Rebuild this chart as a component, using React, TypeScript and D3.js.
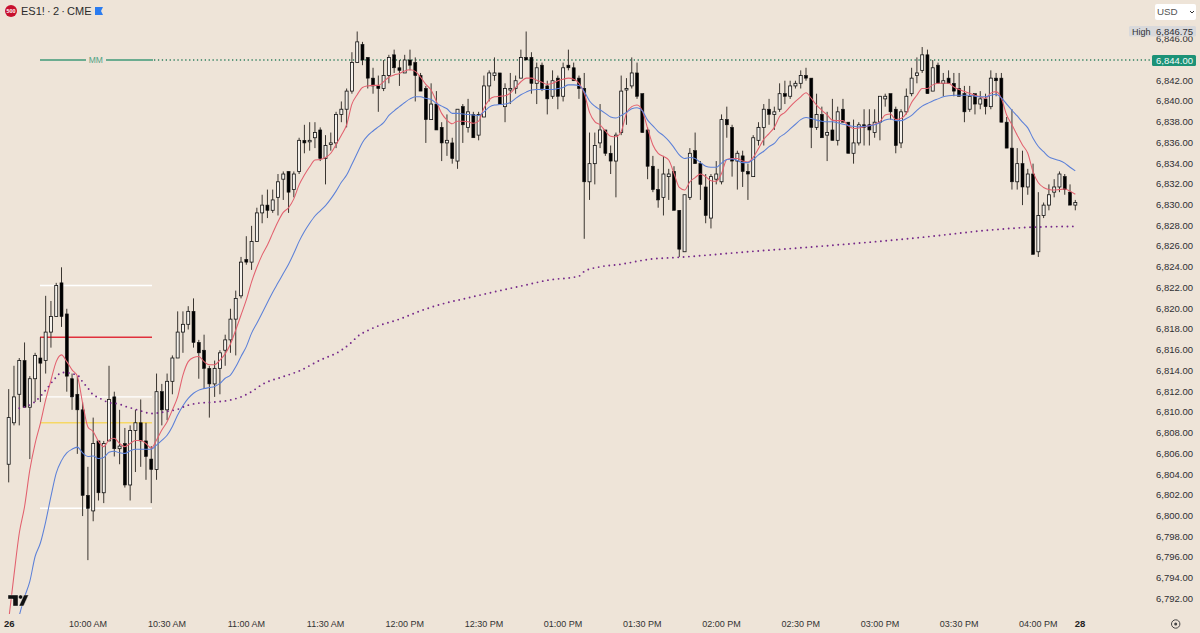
import React from "react";
import * as d3 from "d3";

const opens = [
6805,6809,6811.75,6815,6810.5,6813.25,6815.25,6815,6817.75,6819.25,
6822.5,6819.5,6813.25,6811.75,6810.25,6802,6800.5,6807.25,6802.25,6807.25,
6811.5,6806.5,6807,6803,6808.25,6809,6807.25,6805.5,6804.5,6812,
6810.25,6813,6815.25,6817.75,6818.5,6819.75,6816.75,6816,6814.25,6812.75,
6814.25,6816,6817,6819,6821.25,6824.75,6824.5,6826.5,6829.25,6830,
6829.5,6830.75,6832.5,6833.25,6831.5,6833.25,6836.25,6836.25,6836.5,6837.25,
6834.5,6836,6836,6838.75,6839.25,6841,6843.75,6845.5,6844.25,6842.25,
6841.5,6841.25,6842.5,6844.5,6843.25,6842.75,6844,6843.75,6842.5,6841.25,
6838.25,6839.75,6837.5,6836,6836,6834.25,6839.5,6837.5,6838.75,6836.75,
6838.5,6841.5,6842.5,6842.75,6839.5,6841.25,6841.25,6842.25,6844.25,6844.25,
6841.75,6843.5,6841.5,6840.5,6842.25,6840.5,6843.5,6843.25,6842.25,6841.25,
6832.25,6834,6836,6837.25,6835,6834.25,6837,6841.25,6841.5,6842.75,
6840.75,6837.25,6833.75,6831.5,6830.75,6832.75,6833.25,6829.5,6825.5,6830.75,
6835.25,6834,6831.75,6828.75,6832.5,6832.25,6838.25,6837.5,6834.25,6834.75,
6833.25,6832.75,6836.25,6837.5,6839.25,6838.75,6839.25,6840.75,6840.5,6841.5,
6841.75,6842.5,6842.25,6837.5,6838.75,6836.75,6837.25,6836.25,6839.25,6838,
6835,6836,6837.75,6837.75,6837,6838,6840.25,6840.75,6839.25,6836,
6839,6840.75,6842.5,6843,6844.5,6841,6843.5,6841.75,6842.25,6841.75,
6841.25,6840.75,6839.25,6840.75,6839.75,6840.25,6839.5,6842.25,6842.25,6838,
6835.5,6832.25,6834,6831.75,6833,6825.5,6829,6830,6831.25,6831.75,
6832.75,6831.25,6830];
const highs = [
6812.25,6814.5,6815.25,6816.75,6813.5,6815.75,6817.25,6821.25,6820.75,6822.5,
6824,6820,6813.75,6813.5,6811,6804.75,6809.5,6807.25,6807.25,6814.5,
6812,6810.25,6808.5,6808.75,6810.25,6811.25,6809,6806.75,6813.75,6812.75,
6813.75,6815.5,6819.75,6819.75,6820.25,6821,6817,6817.5,6814.5,6815,
6816,6817.5,6820,6821.75,6825,6827,6828,6829.75,6831,6831.5,
6831.5,6833,6833.25,6833.25,6833.25,6836.5,6837.75,6838,6838,6837.5,
6836.75,6837,6839,6840,6841.25,6844.75,6846.75,6845.75,6844.25,6843.25,
6842.5,6844,6844.5,6845,6844,6844.5,6845,6844.25,6842.75,6841.5,
6841.75,6841,6838,6838.75,6836.5,6839.25,6839.75,6840.25,6839,6839,
6842.5,6843,6844.25,6842.75,6841.75,6842.75,6842.5,6845,6846.75,6844.75,
6843.75,6843.75,6842,6843,6842.5,6843.75,6845,6843.75,6842.5,6842.75,
6837,6837,6839.75,6837.25,6835.75,6837,6842.5,6842.25,6844.25,6843.75,
6840.75,6837.5,6834.75,6833.5,6834.75,6833.5,6833.75,6829.5,6831,6835.5,
6837,6834.25,6833,6833,6834.25,6838.75,6839.5,6837.75,6835.25,6835.25,
6834,6836.75,6838,6839.75,6840.25,6839.5,6841.75,6842,6842,6842,
6843,6843.25,6842.25,6840.75,6839.5,6839,6840.25,6839.5,6840.25,6838,
6838.25,6838,6839.25,6839.25,6839.25,6840.5,6840.75,6840.75,6839.5,6839.25,
6841.25,6843.25,6844.25,6845.25,6845,6844,6843.75,6842.75,6843,6842.75,
6842.75,6841.5,6841.5,6840.75,6841,6840.75,6843,6842.75,6842.75,6838.5,
6839.25,6835.5,6835.25,6833.5,6834,6831.25,6830.25,6832,6832.5,6833.25,
6833,6832,6830.5];
const lows = [
6803.25,6808.75,6808.75,6810.5,6805.5,6811,6811,6813.75,6816.25,6819.25,
6818.25,6812,6810.25,6806,6800,6795.75,6799.5,6801.5,6801.25,6807.25,
6805.75,6805,6802.75,6801.5,6804.25,6804.75,6803.5,6801.25,6803.5,6808.75,
6809.25,6811.75,6815.25,6815.75,6818,6816.25,6813.25,6812.25,6809.5,6811.5,
6811.75,6814.5,6815.75,6815.5,6821,6824.25,6823.75,6826.5,6828.25,6828.75,
6829.25,6829,6830.5,6829.25,6830.75,6833,6835,6835.25,6835.5,6834.25,
6832,6835.25,6835.5,6838,6837.5,6840.75,6843.75,6843.5,6841.25,6840.75,
6839,6841,6841.75,6842.75,6841.5,6842.75,6843,6840,6841,6836,
6838.25,6837.25,6834.25,6834.75,6834,6833.5,6836,6837,6836.5,6836.25,
6838.5,6840,6842,6839.75,6838,6839.75,6840.75,6842.25,6844,6840.75,
6839.75,6841,6838.75,6840.25,6839.25,6840,6843,6842,6840.25,6826.75,
6830.5,6832,6835.5,6834.75,6833,6830.75,6836.75,6837.75,6841.25,6840.25,
6837,6832.5,6831.25,6829.75,6829,6830.5,6829.5,6825,6825.5,6830.5,
6834,6830.5,6828.25,6827.75,6832,6832,6836.5,6832.75,6831.5,6831.75,
6830.5,6832.75,6835.75,6835.75,6837.75,6837.25,6839,6839.75,6840.25,6841.25,
6841.25,6842,6835.5,6837.25,6836.5,6834.25,6836.25,6835.75,6838,6835,
6834,6835.75,6835.75,6835.75,6836.5,6836.25,6839.5,6838.25,6835,6835.5,
6838.75,6840.5,6841.75,6842.75,6840.75,6841,6841.75,6840.5,6841.75,6840.5,
6840.5,6838,6839,6838.75,6839.25,6838.75,6839.25,6840.5,6838,6835.5,
6831.5,6831.5,6830,6831,6825.25,6825,6828.75,6829.5,6830.75,6831.25,
6831,6830,6829.5];
const closes = [
6809.5,6811.5,6815,6810.5,6813.25,6815.5,6814.75,6817.75,6819.25,6822.25,
6819.25,6813.5,6811.5,6810.25,6802,6800.75,6807,6802.25,6807,6811.25,
6806.5,6806.75,6803,6808.25,6809,6807.25,6805.75,6804.5,6812,6810.25,
6813,6815.25,6817.75,6818.5,6819.75,6816.75,6815.75,6814.25,6812.75,6814.25,
6815.75,6817,6819,6821,6824.5,6824.5,6826.5,6829.25,6830,6829.5,
6830.5,6832.25,6833,6831.25,6833,6836.25,6836,6836.25,6837,6834.5,
6835.75,6836,6838.75,6839.25,6841,6843.75,6845.75,6844,6842.25,6841.5,
6841.25,6842.5,6844.25,6843.25,6843,6844,6843.5,6842.5,6841,6838.25,
6839.75,6837.25,6836,6836.25,6834.5,6839.25,6837.75,6839,6836.5,6838.75,
6841.5,6842.75,6842.75,6839.75,6841.25,6841.25,6842,6844.25,6844,6841.75,
6843.25,6841.25,6840.25,6842,6840.5,6843.25,6843.25,6842,6841.25,6832.25,
6834,6835.75,6837.25,6835,6834.25,6836.75,6841,6841.25,6842.75,6840.5,
6837,6833.75,6831.5,6830.5,6833,6833,6829.5,6825.75,6831,6835,
6834,6832,6829,6832.75,6833,6838.25,6837.75,6834.25,6835,6833.25,
6833,6836.5,6837.5,6839.25,6838.75,6839,6840.75,6840.5,6841.5,6841.75,
6842.5,6842.25,6837.5,6838.75,6836.5,6837,6836.25,6839,6838,6835,
6836,6837.75,6837.5,6837.25,6838,6840.5,6840.5,6839,6835.75,6839,
6840.5,6842.25,6842.75,6844.5,6840.75,6843.25,6841.75,6842,6841.75,6841,
6840.5,6839,6840.5,6839.75,6840.25,6839.5,6842.25,6842,6838,6835.5,
6832.25,6834,6831.75,6833,6825.25,6829,6830,6831,6831.75,6833,
6831.5,6830,6830.25];

const redEma = [
6790,6794.3,6798.34,6800.9,6804.45,6807,6808.95,6811.2,6813.1,6814.9,
6815.55,6814.9,6814.1,6813.5,6810.9,6808.6,6808.15,6807.2,6806.7,6807.35,
6807.5,6807,6806.7,6807,6807.3,6807.3,6807,6806.55,6807.35,6808.3,
6809.1,6810.25,6811.5,6813.6,6814.9,6815.3,6815.4,6814.9,6814.6,6814.6,
6815.05,6815.65,6816.6,6817.95,6819.4,6820.85,6822.6,6824,6825.2,6826.15,
6827.3,6828.4,6829.3,6829.75,6830.6,6831.95,6832.9,6833.7,6834.35,6834.4,
6834.6,6835,6835.85,6836.75,6837.75,6839.75,6840.65,6841.35,6841.5,6841.55,
6841.55,6841.9,6842.35,6842.55,6842.7,6842.95,6843.05,6842.9,6842.35,6841.65,
6841.1,6840,6838.85,6838.2,6837.85,6838.1,6838.1,6838.05,6837.9,6838.1,
6839.35,6840.15,6840.45,6840.5,6840.55,6840.8,6841.35,6841.9,6842.25,6842.25,
6842.05,6841.85,6841.65,6841.75,6842,6842.15,6842.25,6842.15,6841.75,6840.8,
6838.95,6838.05,6837.75,6837.15,6836.65,6836.6,6837.1,6838.85,6839.5,6839.65,
6839.1,6837.4,6835.8,6835,6834.7,6834.35,6833.05,6831.7,6831.45,6832.25,
6832.65,6833,6832.75,6832.35,6832.3,6833.05,6834.4,6834.5,6834.5,6834.25,
6834.15,6834.6,6835.45,6836.35,6836.9,6837.5,6838.55,6838.95,6839.5,6840,
6840.45,6840.85,6840.3,6839.65,6839.15,6838.7,6838.2,6838.15,6838.15,6837.65,
6837.4,6837.45,6837.55,6837.65,6837.8,6838.05,6838.7,6838.8,6838.25,6838.35,
6838.85,6839.9,6840.6,6841.25,6841.25,6841.6,6841.75,6841.75,6841.75,6841.4,
6841.15,6840.95,6840.8,6840.6,6840.45,6840.3,6840.8,6840.95,6840.3,6838.7,
6837.75,6836.75,6835.8,6835,6833.2,6832.15,6831.7,6831.5,6831.45,6831.5,
6831.55,6831.35,6831.05];
const blueEmaStart = 2;
const blueEma = [
6790.4,6792.2,6793.7,6796.1,6797.4,6799.45,6801.9,6804.15,
6805.35,6806.1,6806.45,6806.65,6806.1,6805.75,6805.8,6805.55,6805.65,6806.15,
6806.25,6806.1,6806.05,6806.3,6806.45,6806.45,6806.45,6806.45,6806.85,6807.3,
6807.8,6808.65,6809.75,6810.65,6811.35,6811.85,6812.15,6812.3,6812.4,6812.5,
6812.8,6813.3,6813.6,6814.4,6815.4,6816.35,6817.65,6818.6,6819.6,6820.6,
6821.6,6822.5,6823.4,6824.3,6825.35,6826.5,6827.45,6828.25,6828.95,6829.45,
6829.95,6830.6,6831.35,6832.2,6832.9,6833.95,6835,6836.05,6836.7,6837.15,
6837.55,6837.95,6838.65,6839.1,6839.5,6839.9,6840.25,6840.45,6840.45,6840.3,
6840.2,6839.8,6839.55,6839.3,6838.85,6838.85,6838.8,6838.75,6838.7,6838.65,
6839,6839.45,6839.65,6839.7,6839.75,6839.9,6840.3,6840.65,6840.9,6841.1,
6841.15,6841.15,6841.15,6841.15,6841.25,6841.35,6841.6,6841.6,6841.55,6840.95,
6840.05,6839.55,6839.2,6838.85,6838.5,6838.4,6838.65,6838.95,6839.3,6839.4,
6839.1,6838.2,6837.65,6837.1,6836.7,6836.2,6835.55,6834.85,6834.5,6834.6,
6834.5,6834.1,6833.75,6833.65,6833.65,6834.05,6834.4,6834.45,6834.3,6834.1,
6834.1,6834.4,6834.85,6835.2,6835.65,6835.95,6836.55,6836.9,6837.35,6837.8,
6838.25,6838.45,6838.35,6838.2,6838.1,6838.05,6838.05,6837.95,6837.8,6837.7,
6837.6,6837.55,6837.6,6837.65,6837.75,6837.95,6838.2,6838.3,6838.15,6838.15,
6838.35,6838.65,6839.15,6839.55,6839.8,6840.05,6840.25,6840.45,6840.55,6840.6,
6840.6,6840.6,6840.6,6840.5,6840.45,6840.45,6840.6,6840.7,6840.35,6839.75,
6839.15,6838.6,6838,6837.45,6836.45,6835.65,6835.15,6834.65,6834.45,6834.3,
6834.05,6833.65,6833.3];

const vwapBars = [2,5,7,8,9,10,13,14,15,16,17,18,19,21,22,23,25,27,30,32,34,36,39,42,44,46,48,52,55,59,63,65,66,68,70,74,75,78,82,87,93,98,102,108,109,112,116,121,128,140,153,169,174,186,193,202];
const vwapVals = [6810.4,6811.05,6812.15,6812.8,6813.4,6813.85,6813.6,6812.95,6812.35,6811.7,6811.45,6811.15,6810.95,6810.8,6810.6,6810.45,6810.15,6809.9,6810.1,6810.3,6810.7,6810.9,6811,6811.2,6811.5,6812,6812.7,6813.45,6814,6815.05,6816,6816.8,6817.3,6817.9,6818.35,6819,6819.2,6819.8,6820.45,6821.05,6821.75,6822.3,6822.75,6823.15,6823.6,6824.05,6824.3,6824.75,6825,6825.5,6826,6826.7,6826.95,6827.6,6827.85,6827.95];

const whiteLevels = [6822.25, 6811.5, 6800.75];
const redLevel = 6817.25;
const yellowLevel = 6809;
const mmLevel = 6844;
const sessionHigh = 6846.75;
const priceTicks = d3.range(6792, 6847, 2);
const timeLabels = ["10:00 AM","10:30 AM","11:00 AM","11:30 AM","12:00 PM","12:30 PM","01:00 PM","01:30 PM","02:00 PM","02:30 PM","03:00 PM","03:30 PM","04:00 PM"];
const barsPerLabel = 15;

const W = 1200, H = 633;
const BG = "#eee4d8";
const x = d3.scaleLinear().domain([0, 202]).range([8.7, 1075.3]);
const y = d3.scaleLinear().domain([6844, 6792]).range([60, 599]);
const fmt = d3.format(",.2f");
const FONT = "'Liberation Sans', Arial, sans-serif";
const AXIS_SIZE = 9.5;

const line = d3.line<[number, number]>().x(d => x(d[0])).y(d => y(d[1])).curve(d3.curveMonotoneX);
const redPts = redEma.map((v, i) => [i, v] as [number, number]);
const bluePts = blueEma.map((v, i) => [i + blueEmaStart, v] as [number, number]);
const vwapPts = vwapBars.map((b, i) => [b, vwapVals[i]] as [number, number]);

export default function App() {
  return (
    <svg width={W} height={H} viewBox={`0 0 ${W} ${H}`} style={{ position: "absolute", left: 0, top: 0, display: "block", background: BG }} fontFamily={FONT}>
      <defs>
        <clipPath id="plot"><rect x={0} y={0} width={1150} height={614} /></clipPath>
      </defs>
      {/* levels */}
      {whiteLevels.map(v => <line key={v} x1={40} x2={152} y1={y(v)} y2={y(v)} stroke="#ffffff" strokeWidth={1.4} />)}
      <line x1={40} x2={152} y1={y(redLevel)} y2={y(redLevel)} stroke="#e0303c" strokeWidth={1.3} />
      <line x1={40} x2={152} y1={y(yellowLevel)} y2={y(yellowLevel)} stroke="#f6d765" strokeWidth={1.5} />
      <line x1={40} x2={86} y1={y(mmLevel)} y2={y(mmLevel)} stroke="#3f9a78" strokeWidth={1.4} />
      <line x1={106} x2={153} y1={y(mmLevel)} y2={y(mmLevel)} stroke="#3f9a78" strokeWidth={1.4} />
      <text x={95.8} y={y(mmLevel) + 3.2} textAnchor="middle" fontSize={8.5} fill="#4fa384">MM</text>
      <line x1={154} x2={1152} y1={y(mmLevel)} y2={y(mmLevel)} stroke="#2f7f5f" strokeWidth={1.3} strokeDasharray="1.3 2.6" />
      <g clipPath="url(#plot)">
        {/* candles */}
        {opens.map((o, i) => {
          const c = closes[i];
          const top = y(Math.max(o, c));
          const bot = y(Math.min(o, c));
          const down = c < o;
          return (
            <g key={i}>
              <line x1={x(i)} x2={x(i)} y1={y(highs[i])} y2={y(lows[i])} stroke="#3a3530" strokeWidth={1} />
              <rect x={x(i) - 1.5} y={top} width={3} height={Math.max(bot - top, 1.5)} fill={down ? "#000" : "#f6f2ec"} stroke="#111" strokeWidth={down ? 0.6 : 0.8} />
            </g>
          );
        })}
        <path d={line(redPts) || ""} fill="none" stroke="#e2606e" strokeWidth={1.05} />
        <path d={line(bluePts) || ""} fill="none" stroke="#5c80d8" strokeWidth={1.05} />
        <path d={line(vwapPts) || ""} fill="none" stroke="#76298a" strokeWidth={1.9} strokeLinecap="round" strokeDasharray="0 5.35" />
      </g>
      {/* price axis */}
      {priceTicks.map(p => (
        <text key={p} x={1193} y={y(p) + 2.9} textAnchor="end" fontSize={AXIS_SIZE} fill="#2f2f33">{fmt(p)}</text>
      ))}
      <rect x={1129} y={26} width={67} height={10.6} rx={1.5} fill="#d9d9db" />
      <text x={1132} y={34.6} fontSize={9} fill="#333">High</text>
      <text x={1193} y={34.6} textAnchor="end" fontSize={AXIS_SIZE} fill="#2f2f33">{fmt(sessionHigh)}</text>
      <rect x={1152} y={55} width={44} height={11} rx={1.5} fill="#1c9277" />
      <text x={1193} y={63.9} textAnchor="end" fontSize={AXIS_SIZE} fill="#f4fbf8">{fmt(mmLevel)}</text>
      <rect x={1155} y={4} width={41} height={16} rx={2} fill="#ffffff" />
      <text x={1157} y={15.2} fontSize={9.8} fill="#555">USD</text>
      <path d="M1190 11 l2 2 l2 -2" fill="none" stroke="#333" strokeWidth={1} />
      {/* time axis */}
      <text x={4} y={627.3} fontSize={AXIS_SIZE} fontWeight={700} fill="#222">26</text>
      {timeLabels.map((t, i) => (
        <text key={t} x={x(barsPerLabel * (i + 1))} y={627.3} textAnchor="middle" fontSize={9} fill="#333">{t}</text>
      ))}
      <text x={1080} y={627.3} textAnchor="middle" fontSize={AXIS_SIZE} fontWeight={700} fill="#222">28</text>
      <circle cx={1175.7} cy={624} r={4.2} fill="none" stroke="#444" strokeWidth={1} />
      <circle cx={1175.7} cy={624} r={1.5} fill="#444" />
      {/* header */}
      <circle cx={11} cy={11} r={6} fill="#c8102e" />
      <text x={11} y={13} textAnchor="middle" fontSize={5.5} fontWeight={700} fill="#fff">500</text>
      <text x={21} y={15} fontSize={11} fill="#2b2b2b">{"ES1!\u2009·\u20092\u2009·\u2009CME"}</text>
      <path d="M95 7 h8 l-2 4 l2 4 h-8 z" fill="#2b7cf0" />
      {/* logo */}
      <g fill="#111" stroke="#f6f1ea" strokeWidth={0.4}>
        <path d="M8 595 h10 v11 h-5 v-7 h-5 z" />
        <circle cx={20.6} cy={597} r={2.1} />
        <path d="M24 595 h4.5 l-5 11 h-4.5 z" />
      </g>
    </svg>
  );
}
